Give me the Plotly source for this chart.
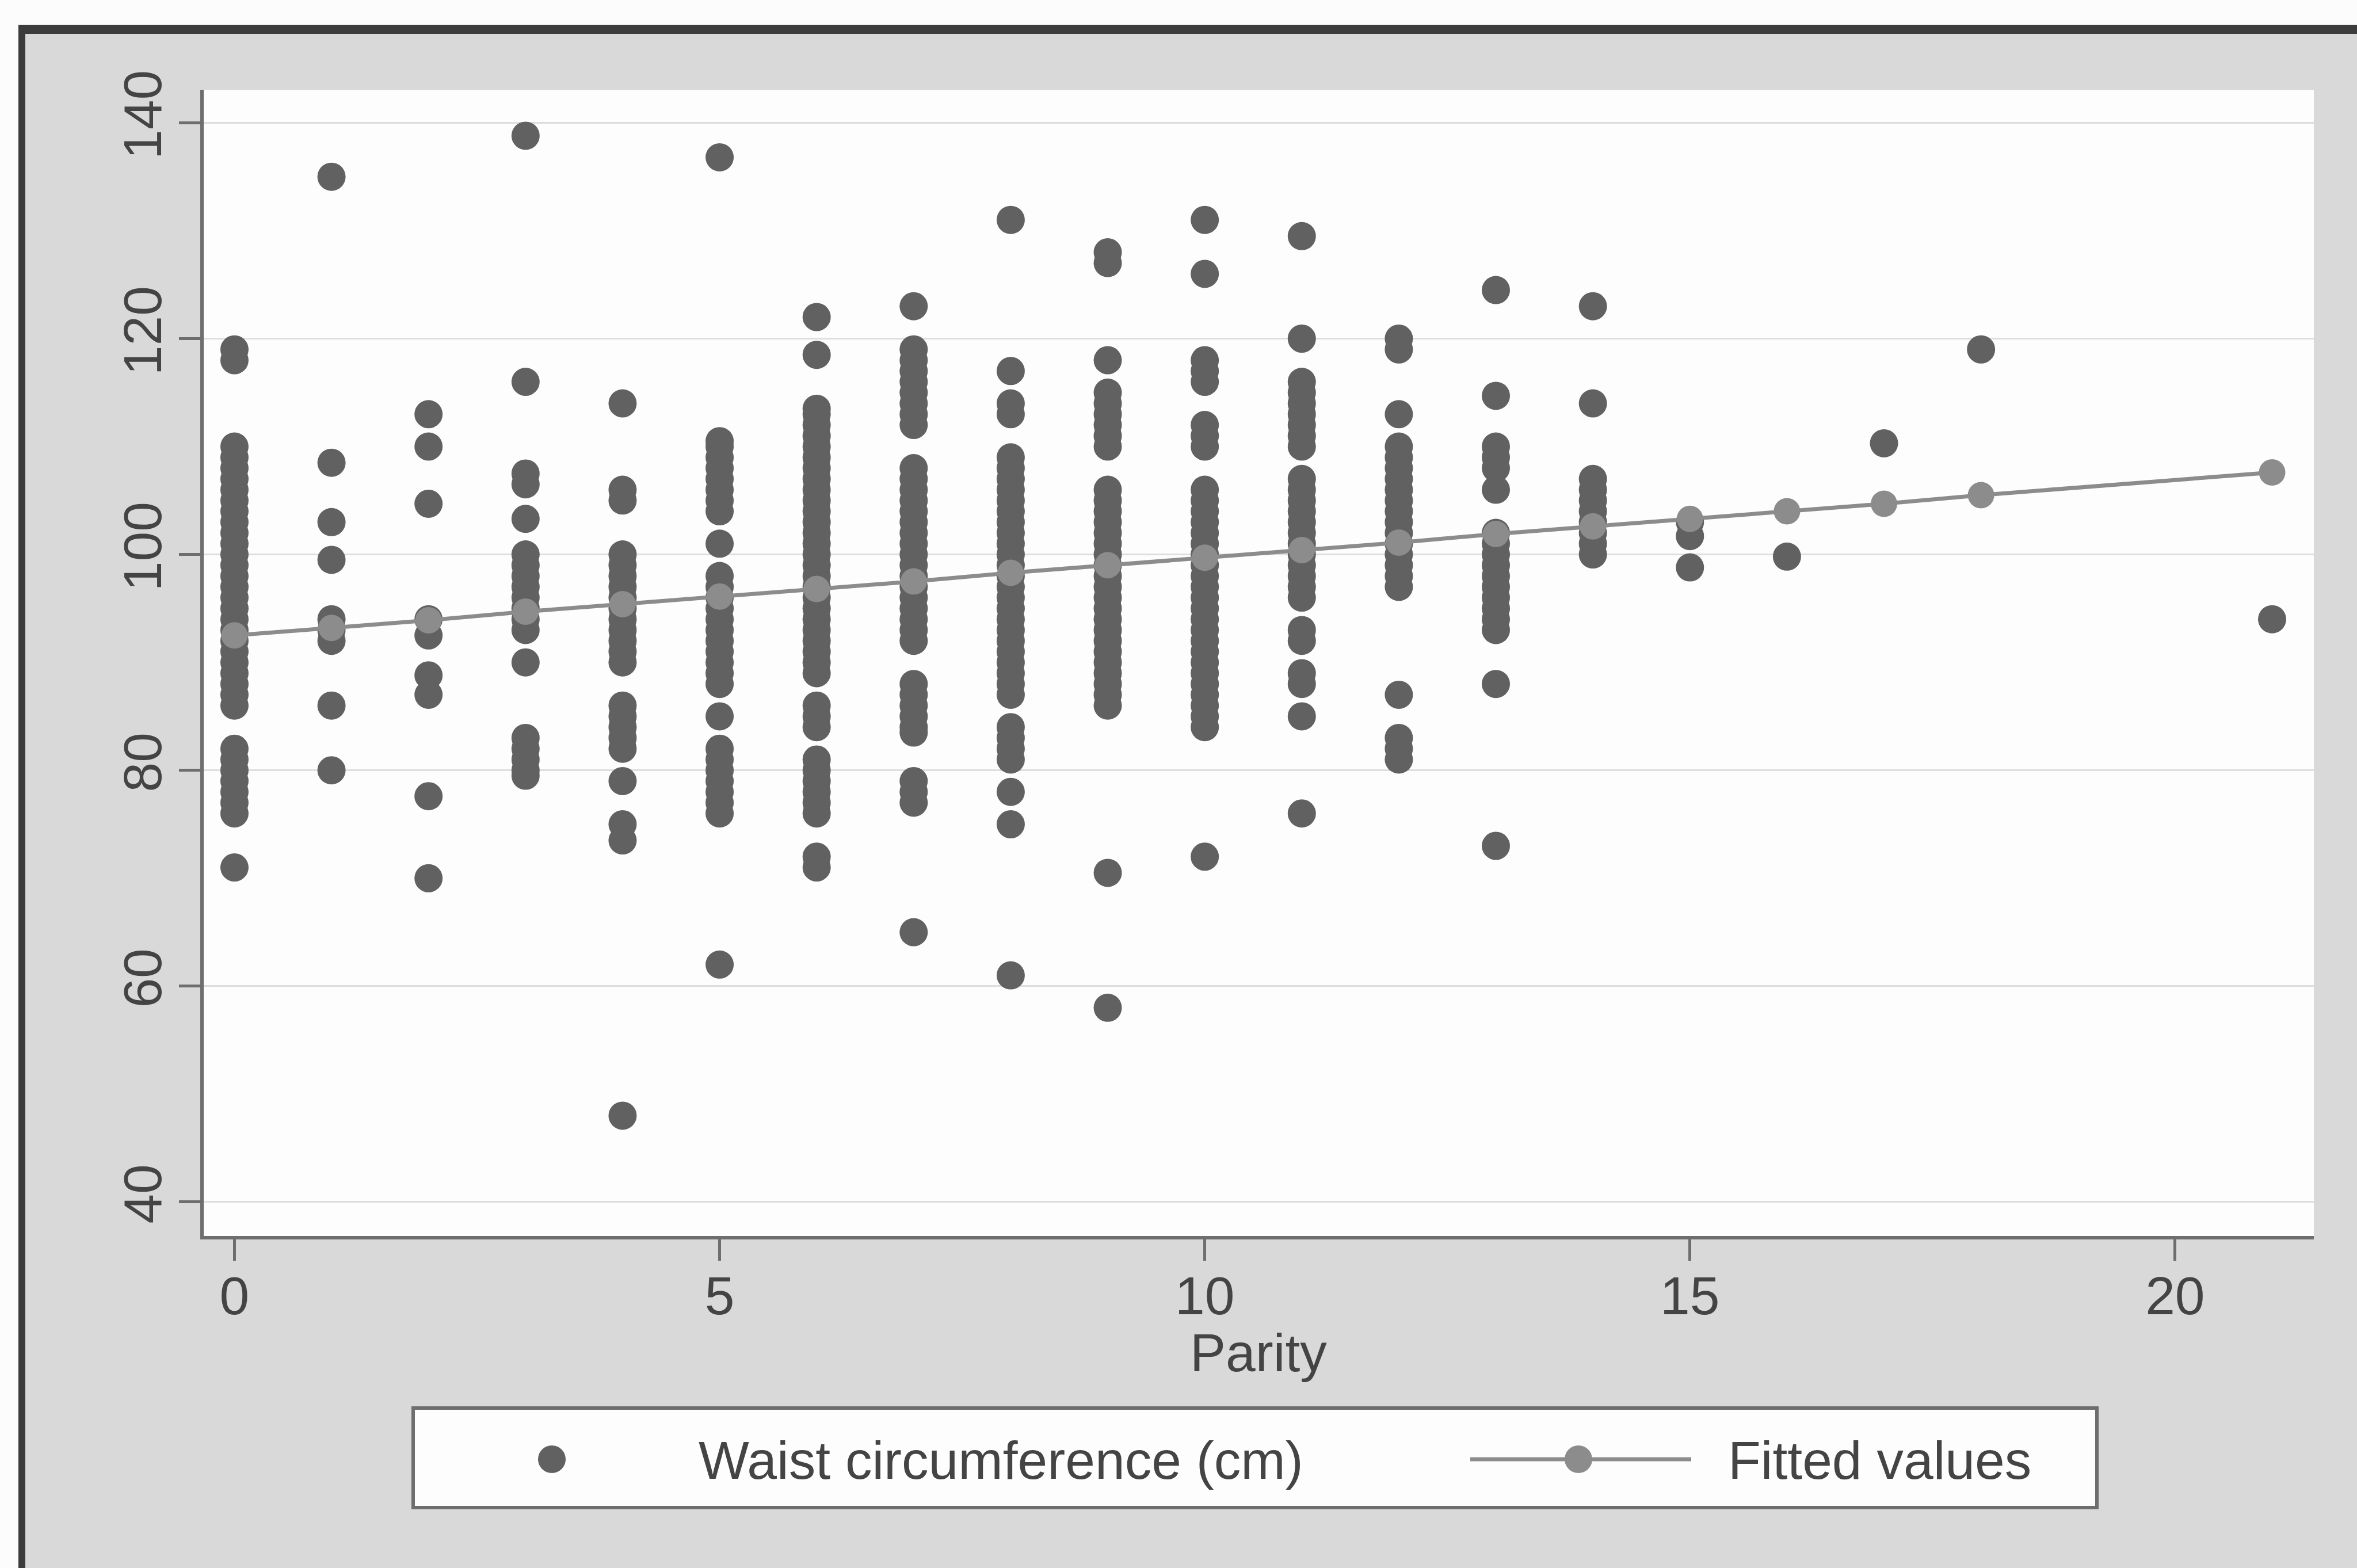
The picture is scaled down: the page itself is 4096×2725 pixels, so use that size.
import plotly.graph_objects as go

# ---------------- data ----------------
parity_levels = [0, 1, 2, 3, 4, 5, 6, 7, 8, 9, 10, 11, 12, 13, 14, 15, 16, 17, 18, 21]

waist_p0 = [119, 118, 110, 109, 108, 107, 106, 105, 104, 103, 102, 101, 100, 99, 98, 97, 96, 95,
            94, 93, 92, 91, 90, 89, 88, 87, 86, 82, 81, 80, 79, 78, 77, 76, 71]
waist_p1 = [135, 108.5, 103, 99.5, 94, 93, 92, 86, 80]
waist_p2 = [113, 110, 104.7, 94, 92.5, 88.8, 87, 77.6, 70]
waist_p3 = [138.8, 116, 107.5, 106.5, 103.3, 100, 99, 98, 97, 96, 95, 94, 93, 90,
            83, 82, 81, 80, 79.5]
waist_p4 = [114, 106, 105, 100, 99, 98, 97, 96, 95, 94, 93, 92, 91, 90, 86, 85, 84, 83, 82,
            79, 75, 73.5, 48]
waist_p5 = [136.8, 110.5, 110, 109, 108, 107, 106, 105, 104, 101, 98, 97, 96, 95, 94, 93, 92,
            91, 90, 89, 88, 85, 82, 81, 80, 79, 78, 77, 76, 62]
waist_p6 = [122, 118.5, 113.5, 113, 112, 111, 110, 109, 108, 107, 106, 105, 104, 103, 102, 101,
            100, 99, 98, 97, 96, 95, 94, 93, 92, 91, 90, 89, 86, 85, 84, 81, 80, 79, 78, 77, 76,
            72, 71]
waist_p7 = [123, 119, 118, 117, 116, 115, 114, 113, 112, 108, 107, 106, 105, 104, 103, 102, 101,
            100, 99, 98, 97, 96, 95, 94, 93, 92, 88, 87, 86, 85, 84, 83.5, 79, 78, 77, 65]
waist_p8 = [131, 117, 114, 113, 109, 108, 107, 106, 105, 104, 103, 102, 101, 100, 99, 98, 97,
            96, 95, 94, 93, 92, 91, 90, 89, 88, 87, 84, 83, 82, 81, 78, 75, 61]
waist_p9 = [128, 127, 118, 115, 114, 113, 112, 111, 110, 106, 105, 104, 103, 102, 101, 100, 99,
            98, 97, 96, 95, 94, 93, 92, 91, 90, 89, 88, 87, 86, 70.5, 58]
waist_p10 = [131, 126, 118, 117, 116, 112, 111, 110, 106, 105, 104, 103, 102, 101, 100, 99, 98,
             97, 96, 95, 94, 93, 92, 91, 90, 89, 88, 87, 86, 85, 84, 72]
waist_p11 = [129.5, 120, 116, 115, 114, 113, 112, 111, 110, 107, 106, 105, 104, 103, 102, 101,
             100, 99, 98, 97, 96, 93, 92, 89, 88, 85, 76]
waist_p12 = [120, 119, 113, 110, 109, 108, 107, 106, 105, 104, 103, 102, 101, 100, 99, 98, 97,
             87, 83, 82, 81]
waist_p13 = [124.5, 114.7, 110, 109, 108, 106, 102, 101, 100, 99, 98, 97, 96, 95, 94, 93, 88, 73]
waist_p14 = [123, 114, 107, 106, 105, 104, 103, 102, 101, 100]
waist_p15 = [103, 101.7, 98.8]
waist_p16 = [99.8]
waist_p17 = [110.3]
waist_p18 = [119]
waist_p21 = [94]

fitted_values = [92.5, 93.2, 93.9, 94.7, 95.4, 96.1, 96.8, 97.5, 98.3, 99.0, 99.7, 100.4, 101.1,
                 101.9, 102.6, 103.3, 104.0, 104.7, 105.5, 107.6]

x_ticks = [0, 5, 10, 15, 20]
y_ticks = [40, 60, 80, 100, 120, 140]

waist_columns = [waist_p0, waist_p1, waist_p2, waist_p3, waist_p4, waist_p5, waist_p6, waist_p7,
                 waist_p8, waist_p9, waist_p10, waist_p11, waist_p12, waist_p13, waist_p14,
                 waist_p15, waist_p16, waist_p17, waist_p18, waist_p21]

xs, ys = [], []
for p, col in zip(parity_levels, waist_columns):
    for v in col:
        xs.append(p)
        ys.append(v)

# ---------------- styling ----------------
W, H = 4096, 2725
L, R, T, B = 354, 4021, 156, 2148   # plot area in pixels
FONT = "Liberation Sans, Arial, Helvetica, sans-serif"
TXT = "#444444"
DATA_C = "#616161"
FIT_C = "#8c8c8c"
AX_C = "#6e6e6e"
FS = 93


def px(xpix):
    return (xpix - L) / (R - L)


def py(ypix):
    return (B - ypix) / (B - T)


fig = go.Figure()
fig.add_trace(go.Scatter(
    x=xs, y=ys, mode="markers", name="Waist circumference (cm)",
    marker=dict(size=49, color=DATA_C, line=dict(width=0)),
    showlegend=False, cliponaxis=False))
fig.add_trace(go.Scatter(
    x=parity_levels, y=fitted_values, mode="lines+markers", name="Fitted values",
    line=dict(color=FIT_C, width=7),
    marker=dict(size=46, color=FIT_C, line=dict(width=0)),
    showlegend=False))

shapes = []
# white strips outside the scanned frame
shapes.append(dict(type="rect", xref="paper", yref="paper", x0=px(0), x1=px(W), y0=py(0), y1=py(44),
                   fillcolor="#fcfcfc", line=dict(width=0), layer="below"))
shapes.append(dict(type="rect", xref="paper", yref="paper", x0=px(0), x1=px(32), y0=py(0), y1=py(H),
                   fillcolor="#fcfcfc", line=dict(width=0), layer="below"))
# dark outer frame (top and left edges)
shapes.append(dict(type="line", xref="paper", yref="paper", x0=px(32), x1=px(W), y0=py(51), y1=py(51),
                   line=dict(color="#3c3c3c", width=16)))
shapes.append(dict(type="line", xref="paper", yref="paper", x0=px(38), x1=px(38), y0=py(44), y1=py(H),
                   line=dict(color="#3c3c3c", width=12)))
# legend box
shapes.append(dict(type="rect", xref="paper", yref="paper", x0=px(718), x1=px(3644), y0=py(2447), y1=py(2620),
                   fillcolor="#fdfdfd", line=dict(color=AX_C, width=6)))
# legend symbols
r = 24
shapes.append(dict(type="circle", xref="paper", yref="paper", x0=px(959 - r), x1=px(959 + r),
                   y0=py(2536 - r), y1=py(2536 + r), fillcolor=DATA_C, line=dict(width=0)))
shapes.append(dict(type="line", xref="paper", yref="paper", x0=px(2555), x1=px(2939), y0=py(2536), y1=py(2536),
                   line=dict(color=FIT_C, width=7)))
shapes.append(dict(type="circle", xref="paper", yref="paper", x0=px(2743 - r), x1=px(2743 + r),
                   y0=py(2536 - r), y1=py(2536 + r), fillcolor=FIT_C, line=dict(width=0)))

annotations = [
    dict(text="Parity", xref="paper", yref="paper", x=px(2187), y=py(2351), xanchor="center", yanchor="middle",
         showarrow=False, font=dict(family=FONT, size=FS, color=TXT)),
    dict(text="Waist circumference (cm)", xref="paper", yref="paper", x=px(1212), y=py(2538),
         xanchor="left", yanchor="middle", showarrow=False, font=dict(family=FONT, size=FS, color=TXT)),
    dict(text="Fitted values", xref="paper", yref="paper", x=px(3001), y=py(2538),
         xanchor="left", yanchor="middle", showarrow=False, font=dict(family=FONT, size=FS, color=TXT)),
]

fig.update_layout(
    width=W, height=H, autosize=False,
    margin=dict(l=L, r=W - R, t=T, b=H - B, pad=0),
    paper_bgcolor="#d9d9d9", plot_bgcolor="#fdfdfd",
    font=dict(family=FONT, size=FS, color=TXT),
    shapes=shapes, annotations=annotations, showlegend=False,
)
fig.update_xaxes(
    range=[-0.317, 21.43], tickvals=x_ticks, ticktext=[str(v) for v in x_ticks],
    showgrid=False, zeroline=False, showline=True, linecolor=AX_C, linewidth=6,
    ticks="outside", ticklen=37, tickwidth=5, tickcolor=AX_C, ticklabelstandoff=-19,
    tickfont=dict(family=FONT, size=FS, color=TXT))
fig.update_yaxes(
    range=[36.85, 143.06], tickvals=y_ticks, ticktext=[str(v) for v in y_ticks],
    showgrid=True, gridcolor="#dedede", gridwidth=3, zeroline=False,
    showline=True, linecolor=AX_C, linewidth=6,
    ticks="outside", ticklen=37, tickwidth=5, tickcolor=AX_C, tickangle=-90, ticklabelstandoff=-6,
    tickfont=dict(family=FONT, size=FS, color=TXT))

fig.write_html("out.html")
